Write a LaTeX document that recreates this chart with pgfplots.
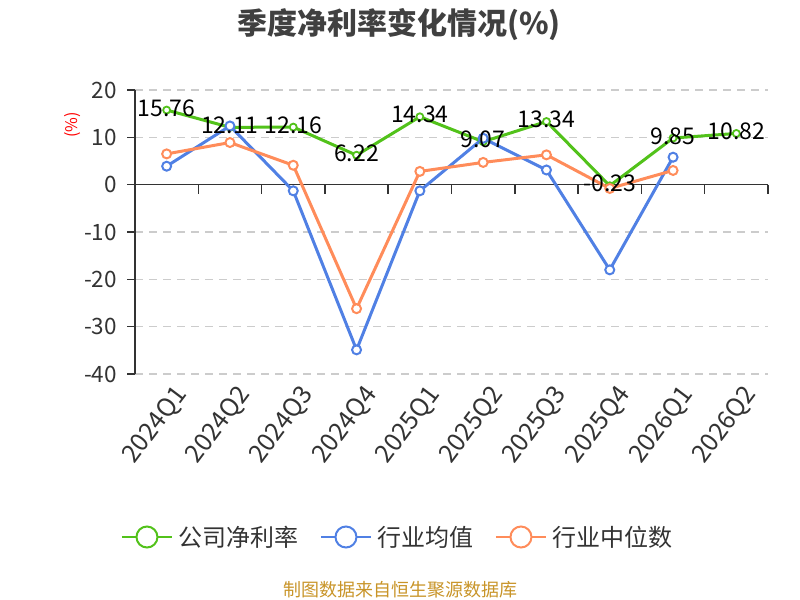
\documentclass[border=0pt]{standalone}
\usepackage{fontspec}
\usepackage{pgfplots}
\usepackage{pgfplotstable}
\pgfplotsset{compat=1.18}
\setmainfont{Noto Sans CJK SC}
\definecolor{cgreen}{RGB}{82,194,26}
\definecolor{cblue}{RGB}{80,128,228}
\definecolor{corange}{RGB}{255,140,90}
\definecolor{ctext}{RGB}{51,51,51}
\definecolor{ctitle}{RGB}{64,64,64}
\definecolor{cgrid}{RGB}{204,204,204}
\definecolor{csrc}{RGB}{200,148,40}

\pgfplotstableread{
x y lab
0 15.76 15.76
1 12.11 12.11
2 12.16 12.16
3 6.22 6.22
4 14.34 14.34
5 9.07 9.07
6 13.34 13.34
7 -0.23 -0.23
8 9.85 9.85
9 10.82 10.82
}\greendata

\pgfplotstableread{
x y
0 3.9
1 12.4
2 -1.3
3 -34.9
4 -1.3
5 9.8
6 3.1
7 -18.0
8 5.8
}\bluedata

\pgfplotstableread{
x y
0 6.5
1 8.9
2 4.1
3 -26.2
4 2.8
5 4.7
6 6.3
7 -0.8
8 3.0
}\orangedata

\begin{document}
\begin{tikzpicture}[x=1bp,y=1bp]
\path[use as bounding box] (0,0) rectangle (800,600);
\node[font=\fontsize{30bp}{34bp}\selectfont\bfseries, text=ctitle] at (399,575) {季度净利率变化情况(\%)};
\node[font=\fontsize{16bp}{18bp}\selectfont, text=red, rotate=90] at (73,475) {(\%)};
\node[font=\fontsize{18bp}{20bp}\selectfont, text=csrc] at (400,10) {制图数据来自恒生聚源数据库};
\begin{axis}[
  at={(135bp,226bp)}, anchor=south west,
  scale only axis, width=633bp, height=284bp,
  xmin=-0.5, xmax=9.5, ymin=-40, ymax=20,
  axis y line*=left, axis x line*=bottom,
  x axis line style={draw=none},
  y axis line style={ctext, line width=1.5bp},
  ytick={-40,-30,-20,-10,0,10,20},
  xtick={0,...,9},
  xticklabels={2024Q1,2024Q2,2024Q3,2024Q4,2025Q1,2025Q2,2025Q3,2025Q4,2026Q1,2026Q2},
  xtick style={draw=none},
  ytick style={ctext, line width=1.5bp},
  tick align=outside, major tick length=8bp,
  ymajorgrids,
  grid style={cgrid, line width=1.5bp, dash pattern=on 8bp off 6bp},
  /pgf/number format/assume math mode=true,
  tick label style={font=\fontsize{22.5bp}{26bp}\selectfont, text=ctext},
  yticklabel style={inner sep=0pt, xshift=-10bp},
  xticklabel style={rotate=53, anchor=east, inner sep=0pt, yshift=-17bp, xshift=3bp, font=\fontsize{25bp}{28bp}\selectfont},
  clip=false,
  legend columns=3,
  legend style={at={(0.4186,-0.574)}, anchor=center, draw=none, fill=none,
    font=\fontsize{24bp}{28bp}\selectfont, text=ctext,
    column sep=0bp, nodes={inner sep=6bp},
    /tikz/every even column/.append style={column sep=15bp}},
  legend image code/.code={
    \draw[#1, line width=2bp] (0bp,0bp) -- (50bp,0bp);
    \draw[#1, line width=2bp, fill=white] (25bp,0bp) circle (10.5bp);
  },
]
\draw[ctext, line width=1.5bp] (axis cs:-0.5,0) -- (axis cs:9.5,0);
\draw[ctext, line width=1.5bp]
  (axis cs:0.5,0) -- (axis cs:0.5,-1.9) (axis cs:1.5,0) -- (axis cs:1.5,-1.9)
  (axis cs:2.5,0) -- (axis cs:2.5,-1.9) (axis cs:3.5,0) -- (axis cs:3.5,-1.9)
  (axis cs:4.5,0) -- (axis cs:4.5,-1.9) (axis cs:5.5,0) -- (axis cs:5.5,-1.9)
  (axis cs:6.5,0) -- (axis cs:6.5,-1.9) (axis cs:7.5,0) -- (axis cs:7.5,-1.9)
  (axis cs:8.5,0) -- (axis cs:8.5,-1.9) (axis cs:9.5,0) -- (axis cs:9.5,-1.9);

\addplot[forget plot, cgreen, line width=3bp, mark=*, mark size=3.5bp,
  mark options={fill=white, line width=1.8bp}] table[x=x,y=y] {\greendata};
\addplot[forget plot, cblue, line width=3bp, mark=*, mark size=4.5bp,
  mark options={fill=white, line width=2bp}] table[x=x,y=y] {\bluedata};
\addplot[forget plot, corange, line width=3bp, mark=*, mark size=4.5bp,
  mark options={fill=white, line width=2bp}] table[x=x,y=y] {\orangedata};
\addplot[forget plot, draw=none, mark=none,
  nodes near coords, point meta=explicit symbolic,
  nodes near coords style={font=\fontsize{23bp}{26bp}\selectfont, text=black, anchor=center, inner sep=0pt, yshift=2bp}]
  table[x=x,y=y,meta=lab] {\greendata};

\addlegendimage{cgreen}\addlegendentry{公司净利率}
\addlegendimage{cblue}\addlegendentry{行业均值}
\addlegendimage{corange}\addlegendentry{行业中位数}
\end{axis}
\end{tikzpicture}
\end{document}
